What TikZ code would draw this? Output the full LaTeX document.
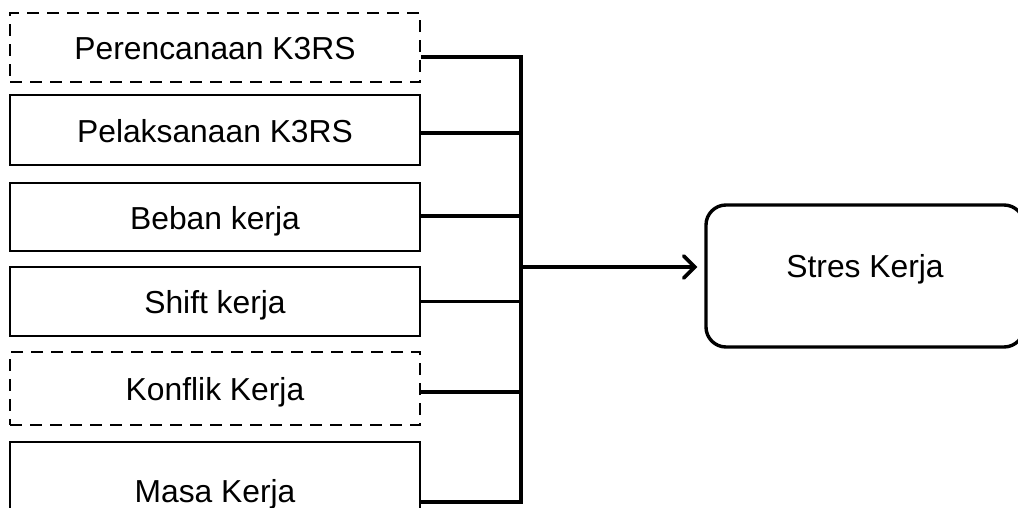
\documentclass[tikz,border=0pt]{standalone}
\usepackage{fontspec}
\setmainfont{Liberation Sans}
\usetikzlibrary{arrows.meta, positioning}

\begin{document}
\begin{tikzpicture}[x=1pt, y=-1pt,
    every node/.style={font=\fontsize{31.8}{38}\selectfont},
    factor/.style={draw, line width=2.4pt, minimum width=410pt, minimum height=69pt, inner sep=0pt, text height=24pt, text depth=0pt},
    guess/.style={factor, dash pattern=on 12pt off 8pt},
    link/.style={line width=3.6pt},
    outcome/.style={draw, line width=3.4pt, rounded corners=20pt, minimum width=318pt, minimum height=142pt, inner sep=0pt, text height=24pt, text depth=22pt}]
\clip (0,0) rectangle (1018,507);

% Factors
\node[guess] (plan) at (215,47.5) {Perencanaan K3RS};
\node[factor, minimum height=70pt] (exec) at (215,130) {Pelaksanaan K3RS};
\node[factor, minimum height=68pt] (load) at (215,217) {Beban kerja};
\node[factor] (shift) at (215,301.5) {Shift kerja};
\node[guess, minimum height=73pt] (conf) at (215,388.5) {Konflik Kerja};
\node[factor, minimum height=96pt] (tenure) at (215,490) {Masa Kerja};

% Outcome
\node[outcome] (result) at (865,276) {Stres Kerja};

% Bus
\coordinate (trunk) at (521,267);
\foreach \n/\s in {plan/-9.5, exec/-3, load/1, shift/0, conf/-3.5, tenure/-12} {
    \draw[link] ([yshift=\s pt]\n.east) -| (trunk);
}
\draw[link, -{Straight Barb[length=11pt, width=22pt, line cap=round]}, shorten >=7pt] (trunk) -- (trunk -| result.west);
\end{tikzpicture}
\end{document}
